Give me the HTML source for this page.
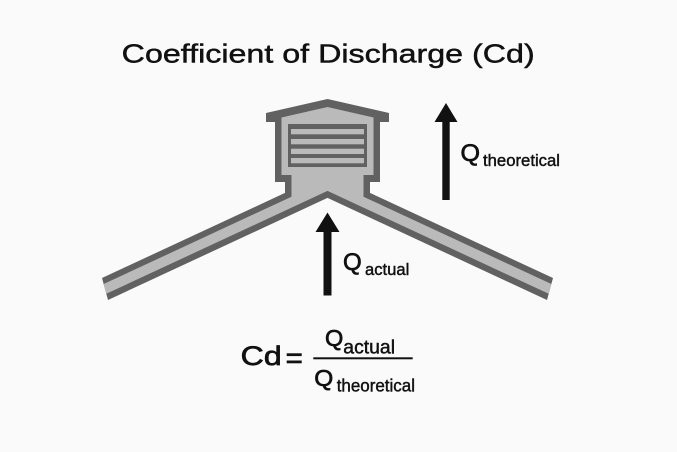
<!DOCTYPE html>
<html>
<head>
<meta charset="utf-8">
<style>
  html, body { margin: 0; padding: 0; background: #fafafa; }
  body { width: 677px; height: 452px; overflow: hidden; }
  svg { display: block; }
  text { font-family: "Liberation Sans", "DejaVu Sans", sans-serif; fill: #111; stroke: #111; stroke-width: 0.45; }
  text.big { stroke-width: 0.7; }
</style>
</head>
<body>
<svg width="677" height="452" viewBox="0 0 677 452" xmlns="http://www.w3.org/2000/svg">
  <rect x="0" y="0" width="677" height="452" fill="#fafafa"/>

  <!-- Title -->
  <text x="121.7" y="62.3" font-size="26" textLength="413" lengthAdjust="spacingAndGlyphs">Coefficient of Discharge (Cd)</text>

  <!-- Outer dark shape of housing + pipes -->
  <polygon fill="#616161" points="
    102,278 285,192.9 285,182 275,182 275,122 266,122 266,113 327.5,99
    389,113 389,122 380,122 380,182 370,182 370,192.9 553,278 547,300
    327.5,197.9 108,300"/>

  <!-- Inner light shape -->
  <polygon fill="#bababa" points="
    103.64,284.03 291.5,196.7 291.5,175 281.5,175 281.5,117.5 327.5,107
    373.5,117.5 373.5,175 363.5,175 363.5,196.7 551.36,284.03 548.7,293.79
    327.5,190.9 106.3,293.79"/>

  <!-- Louver panel -->
  <rect x="288" y="124" width="79" height="43" fill="#616161"/>
  <rect x="291" y="129" width="73" height="5.3" fill="#bababa"/>
  <rect x="291" y="139" width="73" height="5.3" fill="#bababa"/>
  <rect x="291" y="148.7" width="73" height="5.3" fill="#bababa"/>
  <rect x="291" y="158" width="73" height="5.3" fill="#bababa"/>

  <!-- Arrow: Q actual -->
  <rect x="323.5" y="230" width="8" height="65.5" fill="#111"/>
  <polygon fill="#111" points="327.5,212.5 339.5,232 315.5,232"/>

  <!-- Arrow: Q theoretical -->
  <rect x="442.3" y="120" width="7.4" height="80" fill="#111"/>
  <polygon fill="#111" points="446,103 457.5,122 434.5,122"/>

  <!-- Label: Q theoretical -->
  <text class="big" x="460.5" y="161" font-size="24" textLength="19.5" lengthAdjust="spacingAndGlyphs">Q</text>
  <text x="483" y="166" font-size="17" textLength="77" lengthAdjust="spacingAndGlyphs">theoretical</text>

  <!-- Label: Q actual -->
  <text class="big" x="343" y="270" font-size="24" textLength="18.7" lengthAdjust="spacingAndGlyphs">Q</text>
  <text x="365" y="275" font-size="17" textLength="44.3" lengthAdjust="spacingAndGlyphs">actual</text>

  <!-- Formula -->
  <text class="big" x="240.7" y="365" font-size="27" textLength="41" lengthAdjust="spacingAndGlyphs">Cd</text>
  <rect x="286.7" y="353.3" width="15" height="2.8" fill="#111"/>
  <rect x="286.7" y="360.5" width="15" height="2.8" fill="#111"/>
  <rect x="313.3" y="357.3" width="99.4" height="2" fill="#111"/>

  <text class="big" x="325" y="346" font-size="23.5" textLength="18.3" lengthAdjust="spacingAndGlyphs">Q</text>
  <text x="343.3" y="353.3" font-size="19" textLength="51.7" lengthAdjust="spacingAndGlyphs">actual</text>

  <text class="big" x="314.3" y="386" font-size="23.5" textLength="19" lengthAdjust="spacingAndGlyphs">Q</text>
  <text x="336.7" y="391.7" font-size="17.5" textLength="78.3" lengthAdjust="spacingAndGlyphs">theoretical</text>
</svg>
</body>
</html>
